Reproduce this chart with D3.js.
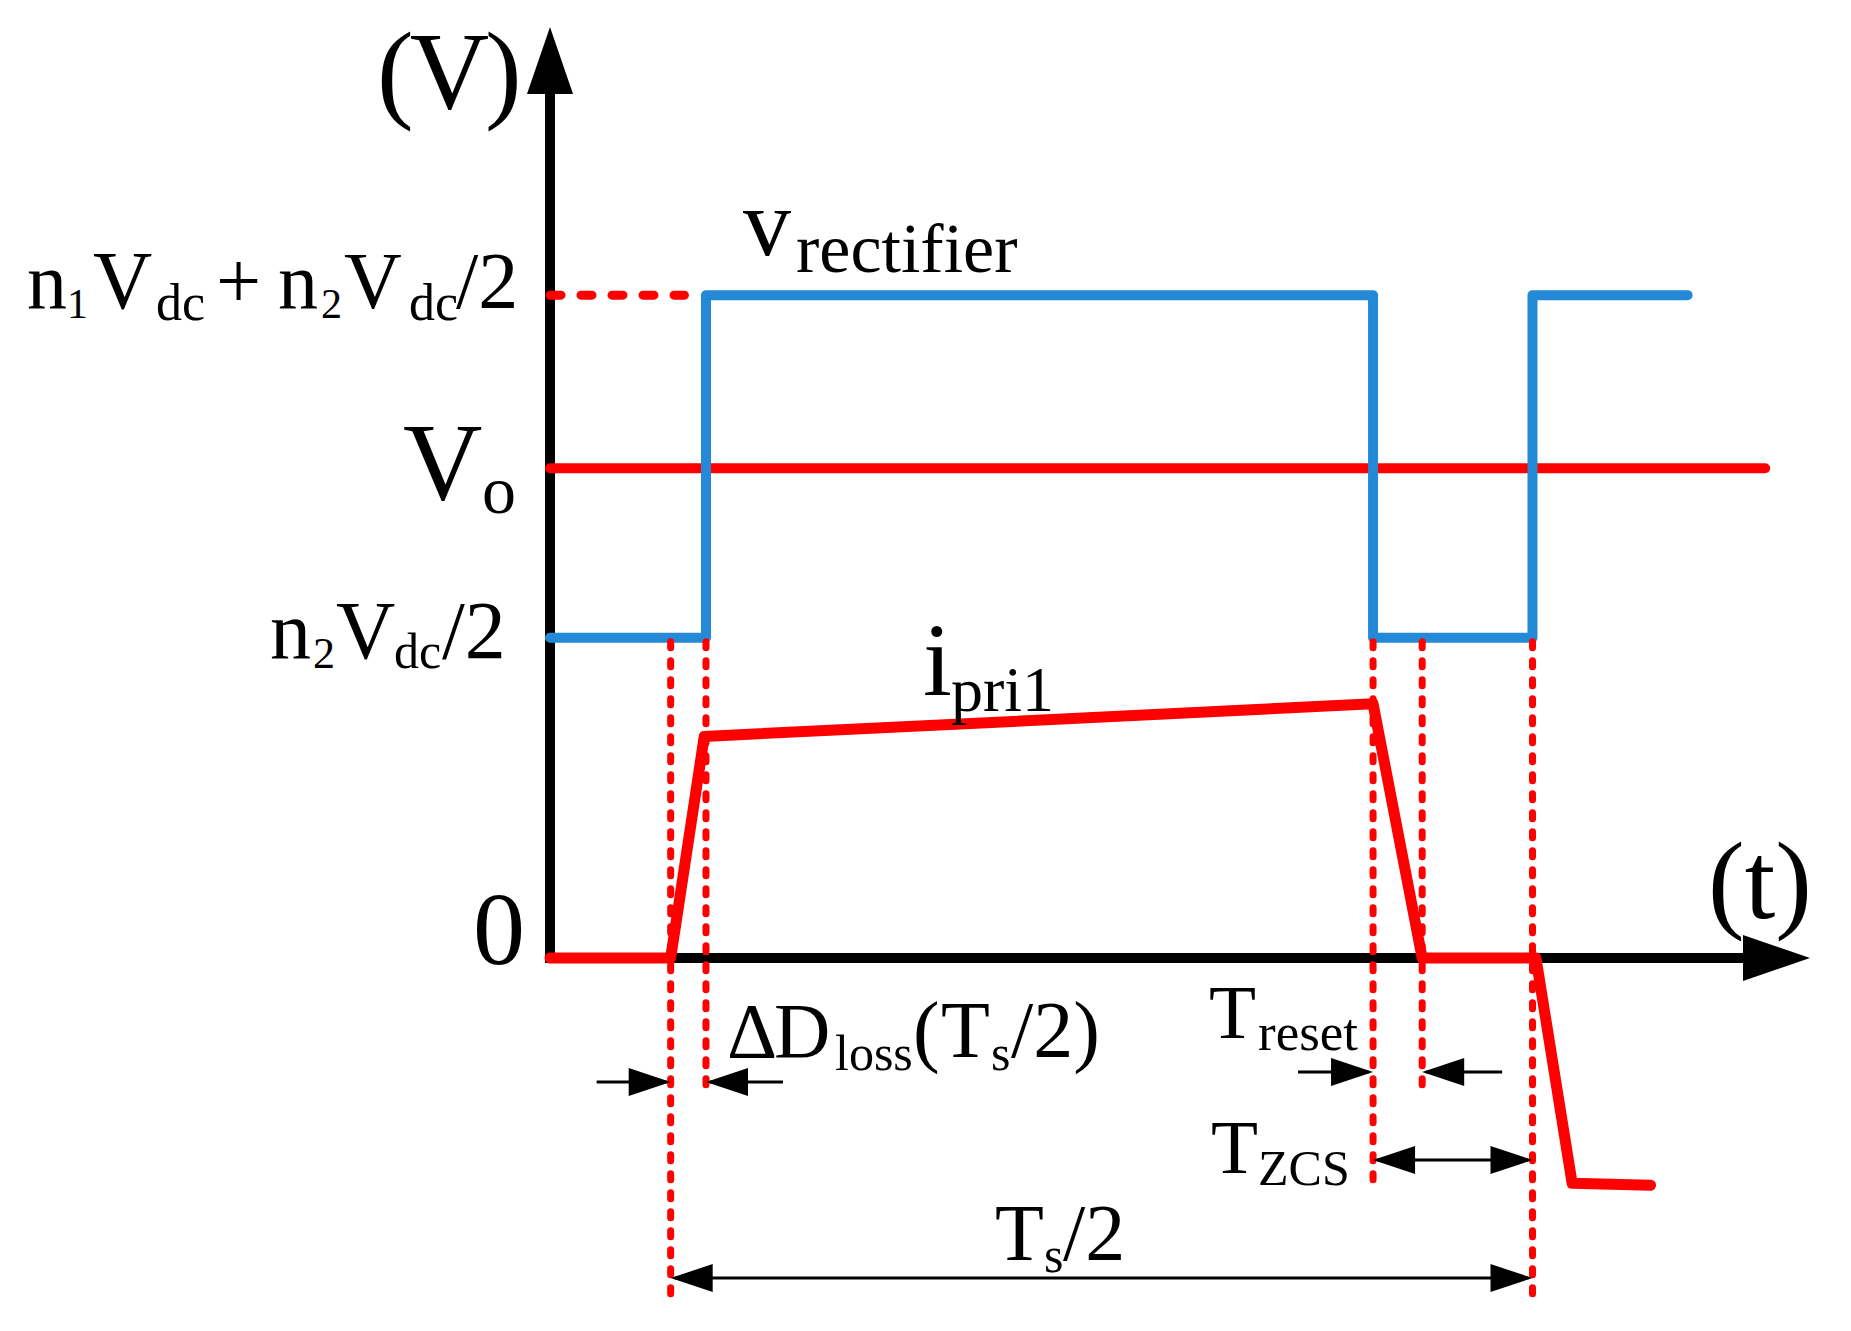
<!DOCTYPE html>
<html>
<head>
<meta charset="utf-8">
<script src="https://cdn.jsdelivr.net/npm/d3@7"></script>
<style>
  body { margin: 0; background: #fff; }
  text { font-family: "Liberation Serif", "Times New Roman", serif; fill: #000; }
</style>
</head>
<body>
<script>
const svgW = 1851;
const svgH = 1331;

// time instants on the t axis (Ts/2 = 100 units)
const eventNames = ['lossStart', 'rectRise', 'rectFall', 'resetEnd', 'halfEnd'];
const eventTimes = [14.0, 18.1, 95.5, 101.2, 114.0];

// voltage levels marked on the V axis
const levelNames = ['zero', 'n2Vdc/2', 'Vo', 'n1Vdc+n2Vdc/2'];
const levelValues = [0, 34.4, 52.6, 71.2];

// v_rectifier (blue)
const vRectT = [0, 18.1, 18.1, 95.5, 95.5, 114.0, 114.0, 132.0];
const vRectV = [34.4, 34.4, 71.2, 71.2, 34.4, 34.4, 71.2, 71.2];

// output voltage Vo (red)
const voT = [0, 141.0];
const voV = [52.6, 52.6];

// i_pri1 (red)
const iPriT = [0, 14.0, 17.9, 95.5, 101.2, 114.4, 118.6, 127.7];
const iPriV = [0, 0, 23.8, 27.3, 0, 0, -24.2, -24.4];

// dotted extension of the top level
const topDotT = [0, 15.6];

const tMax = 146.2;
const vMax = 100;

const x = d3.scaleLinear().domain([0, tMax]).range([550, 1810]);
const y = d3.scaleLinear().domain([0, vMax]).range([958, 27]);

const svg = d3.select('body')
              .append('svg')
              .attr('width', svgW)
              .attr('height', svgH);

const zip = (ts, vs) => ts.map((t, i) => [t, vs[i]]);
const line = d3.line().x(d => x(d[0])).y(d => y(d[1]));
const ev = name => eventTimes[eventNames.indexOf(name)];
const lv = name => levelValues[levelNames.indexOf(name)];

const RED = '#ff0000';
const BLUE = '#2489d6';

// ---- axes with arrow heads
const headLen = 67, headHalf = 23;
svg.append('line')
   .attr('x1', x(0)).attr('y1', y(0))
   .attr('x2', x(0)).attr('y2', y(vMax) + headLen - 2)
   .attr('stroke', '#000').attr('stroke-width', 10);
svg.append('path')
   .attr('d', `M${x(0)},${y(vMax)} L${x(0) - headHalf},${y(vMax) + headLen} L${x(0) + headHalf},${y(vMax) + headLen} Z`)
   .attr('fill', '#000');
svg.append('line')
   .attr('x1', x(0) - 5).attr('y1', y(0))
   .attr('x2', x(tMax) - headLen + 2).attr('y2', y(0))
   .attr('stroke', '#000').attr('stroke-width', 10);
svg.append('path')
   .attr('d', `M${x(tMax)},${y(0)} L${x(tMax) - headLen},${y(0) - headHalf} L${x(tMax) - headLen},${y(0) + headHalf} Z`)
   .attr('fill', '#000');

// ---- waveforms
svg.append('path')
   .attr('d', line(zip(topDotT, [lv('n1Vdc+n2Vdc/2'), lv('n1Vdc+n2Vdc/2')])))
   .attr('fill', 'none').attr('stroke', RED).attr('stroke-width', 9)
   .attr('stroke-linecap', 'round').attr('stroke-dasharray', '11 20');

svg.append('path')
   .attr('d', line(zip(voT, voV)))
   .attr('fill', 'none').attr('stroke', RED).attr('stroke-width', 10)
   .attr('stroke-linecap', 'round');

svg.append('path')
   .attr('d', line(zip(vRectT, vRectV)))
   .attr('fill', 'none').attr('stroke', BLUE).attr('stroke-width', 10)
   .attr('stroke-linecap', 'round').attr('stroke-linejoin', 'round');

svg.append('path')
   .attr('d', line(zip(iPriT, iPriV)))
   .attr('fill', 'none').attr('stroke', RED).attr('stroke-width', 11)
   .attr('stroke-linecap', 'round').attr('stroke-linejoin', 'round');

// ---- dashed event markers (from the low rectifier level down to the annotation rows)
const markerBottoms = [1297, 1095, 1180, 1097, 1297];
svg.selectAll('.marker')
   .data(eventTimes)
   .enter()
   .append('line')
   .attr('class', 'marker')
   .attr('x1', d => x(d)).attr('x2', d => x(d))
   .attr('y1', y(lv('n2Vdc/2')) + 4)
   .attr('y2', (d, i) => markerBottoms[i])
   .attr('stroke', RED).attr('stroke-width', 7)
   .attr('stroke-linecap', 'round').attr('stroke-dasharray', '6 13');

// ---- dimension arrows
const aLen = 42, aHalf = 14;
function head(tipX, yy, dir) { // dir = +1 points right, -1 points left
  svg.append('path')
     .attr('d', `M${tipX},${yy} L${tipX - dir * aLen},${yy - aHalf} L${tipX - dir * aLen},${yy + aHalf} Z`)
     .attr('fill', '#000');
}
function shaft(x1, x2, yy) {
  svg.append('line')
     .attr('x1', x1).attr('x2', x2).attr('y1', yy).attr('y2', yy)
     .attr('stroke', '#000').attr('stroke-width', 3);
}
// arrows pointing inward at two instants
function inward(tA, tB, yy, outA, outB) {
  shaft(x(tA) - outA, x(tA) - 4, yy); head(x(tA), yy, 1);
  shaft(x(tB) + 4, x(tB) + outB, yy); head(x(tB), yy, -1);
}
// double arrow spanning two instants
function between(tA, tB, yy) {
  shaft(x(tA) + 4, x(tB) - 4, yy);
  head(x(tA), yy, -1); head(x(tB), yy, 1);
}
inward(ev('lossStart'), ev('rectRise'), 1082, 74, 77);
inward(ev('rectFall'), ev('resetEnd'), 1072, 75, 80);
between(ev('rectFall'), ev('halfEnd'), 1160);
between(ev('lossStart'), ev('halfEnd'), 1278);

// ---- math-style labels: [text, dx, dy, size]
function label(x0, base, parts, spacing) {
  const t = svg.append('text');
  parts.forEach(p => {
    t.append('tspan')
     .attr('x', x0 + p[1])
     .attr('y', base + p[2])
     .attr('font-size', p[3])
     .attr('letter-spacing', spacing || 0)
     .text(p[0]);
  });
}

label(377, y(vMax) + 81, [['(V)', 0, 0, 110]], -4);
label(1708, y(0) - 40, [['(t)', 0, 0, 110]]);

label(473, y(lv('zero')) + 6, [['0', 0, 0, 104]]);
label(270, y(lv('n2Vdc/2')) + 20, [
  ['n', 0, 0, 82], ['2', 43, 10, 44], ['V', 66, 0, 82], ['dc', 124, 10, 50], ['/2', 172, 0, 82]
]);
label(403, y(lv('Vo')) + 31, [['V', 0, 0, 110], ['o', 79, 14, 68]]);
label(27, y(lv('n1Vdc+n2Vdc/2')) + 13, [
  ['n', 0, 0, 80], ['1', 40, 10, 42], ['V', 66, 0, 82], ['dc', 129, 12, 52], ['+', 189, 0, 80],
  ['n', 251, 0, 80], ['2', 294, 10, 42], ['V', 317, 0, 80], ['dc', 382, 12, 52], ['/2', 429, 0, 80]
]);

label(743, 255, [['v', 0, 0, 96], ['rectifier', 53, 17, 70]]);
label(923, 695, [['i', 0, 0, 104], ['pri1', 28, 16, 64]]);

label(727, 1057, [
  ['\u0394', 0, 0, 78], ['D', 47, 0, 78], ['loss', 108, 13, 50], ['(', 186, 0, 80],
  ['T', 214, 0, 80], ['s', 264, 13, 50], ['/2)', 284, 0, 80]
]);
label(1209, 1038, [['T', 0, 0, 77], ['reset', 49, 12, 53]]);
label(1211, 1173, [['T', 0, 0, 77], ['ZCS', 47, 12, 50]]);
label(995, 1260, [['T', 0, 0, 80], ['s', 49, 12, 50], ['/2', 68, 0, 80]]);
</script>
</body>
</html>
